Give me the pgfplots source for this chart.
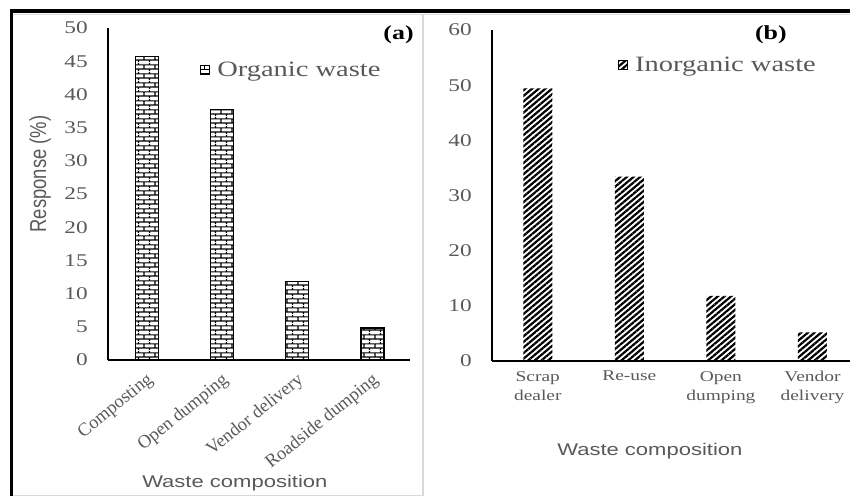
\documentclass[border=0pt]{standalone}
\usepackage{fontspec}
\setmainfont[FakeStretch=1.3]{Liberation Serif}
\newfontfamily\serifn{Liberation Serif}
\newfontfamily\sansw[FakeStretch=1.3]{Liberation Sans}
\newfontfamily\sansn{Liberation Sans}
\usepackage{pgfplots}
\pgfplotsset{compat=1.18}
\usetikzlibrary{patterns,patterns.meta}
\definecolor{txtgray}{HTML}{595959}
\definecolor{framegray}{HTML}{D9D9D9}

\pgfdeclarepatternformonly{mybricks}{\pgfpoint{0pt}{0pt}}{\pgfpoint{11pt}{8.6pt}}{\pgfpoint{11pt}{8.6pt}}{%
  \pgfsetlinewidth{1.2pt}%
  \pgfpathmoveto{\pgfpoint{0pt}{2.15pt}}\pgfpathlineto{\pgfpoint{11pt}{2.15pt}}%
  \pgfpathmoveto{\pgfpoint{0pt}{6.45pt}}\pgfpathlineto{\pgfpoint{11pt}{6.45pt}}%
  \pgfpathmoveto{\pgfpoint{2pt}{2.15pt}}\pgfpathlineto{\pgfpoint{2pt}{6.45pt}}%
  \pgfpathmoveto{\pgfpoint{7.5pt}{6.45pt}}\pgfpathlineto{\pgfpoint{7.5pt}{8.6pt}}%
  \pgfpathmoveto{\pgfpoint{7.5pt}{0pt}}\pgfpathlineto{\pgfpoint{7.5pt}{2.15pt}}%
  \pgfusepath{stroke}}

\pgfplotsset{
  panel/.style={
    scale only axis, ybar, anchor=south west,
    axis x line=bottom, axis y line=left,
    axis line style={-, line width=1.4bp, black},
    major tick length=0pt,
    ymin=0, xtick={0,1,2,3},
    /pgf/number format/assume math mode=true,
    yticklabel style={font=\fontsize{18}{18}\selectfont, text=txtgray, anchor=east, inner sep=0pt, xshift=-20bp},
    legend style={draw=none, fill=none, inner sep=0pt, anchor=west, column sep=5bp,
      font=\fontsize{22}{22}\selectfont, text=txtgray},
    legend image code/.code={\draw[##1, line width=1bp] (0bp,-4.5bp) rectangle (9bp,4.5bp);},
    clip=false,
  }
}

\begin{document}
\begin{tikzpicture}
\useasboundingbox (0bp,0bp) rectangle (850bp,496bp);

% Left panel
\begin{axis}[panel,
  at={(108bp,136bp)}, width=302bp, height=332bp,
  xmin=-0.52, xmax=3.5, ymax=50, ytick={0,5,...,50},
  xticklabels={Composting,Open dumping,Vendor delivery,Roadside dumping},
  xticklabel style={font=\serifn\fontsize{18.5}{18.5}\selectfont, text=txtgray, anchor=east, inner sep=0pt, xshift=4bp, yshift=-18bp, rotate=39},
  xlabel={Waste composition},
  xlabel style={at={(axis description cs:0.42,-0.37)}, anchor=center, font=\sansw\fontsize{17}{17}\selectfont, text=txtgray},
  ylabel={\scalebox{1}[1.25]{Response (\%)}},
  ylabel style={at={(axis description cs:-0.225,0.56)}, anchor=center, font=\sansn\fontsize{18.5}{18.5}\selectfont, text=txtgray},
  legend style={at={(axis description cs:0.305,0.873)}},
]
\addplot[draw=black, line width=1.3bp, pattern=mybricks, bar width=23bp]
  coordinates {(0,45.7) (1,37.7) (2,11.8) (3,4.8)};
\addlegendentry{Organic waste}
\node[font=\fontsize{20}{20}\selectfont\bfseries] at (axis description cs:0.962,0.979) {(a)};
\end{axis}

% Right panel
\begin{axis}[panel,
  at={(492bp,135bp)}, width=358bp, height=331bp,
  xmin=-0.5, xmax=3.41, ymax=60, ytick={0,10,...,60},
  xticklabels={{Scrap\\dealer},{Re-use},{Open\\dumping},{Vendor\\delivery}},
  xticklabel style={font=\fontsize{15}{19}\selectfont, text=txtgray, align=center, anchor=north, inner sep=0pt, yshift=-10bp},
  xlabel={Waste composition},
  xlabel style={at={(axis description cs:0.441,-0.272)}, anchor=center, font=\sansw\fontsize{17}{17}\selectfont, text=txtgray},
  legend style={at={(axis description cs:0.352,0.894)}},
]
\addplot[draw=none, pattern={Lines[angle=40, distance=4.3pt, line width=2.2pt]}, bar width=29bp]
  coordinates {(0,49.4) (1,33.4) (2,11.8) (3,5.2)};
\addlegendentry{Inorganic waste}
\node[font=\fontsize{20}{20}\selectfont\bfseries] at (axis description cs:0.779,0.985) {(b)};
\end{axis}

% Frame
\draw[framegray, line width=1.5bp] (13bp,481.5bp) -- (850bp,481.5bp);
\draw[framegray, line width=1.8bp] (423bp,0bp) -- (423bp,482bp);
\draw[framegray, line width=1bp] (13bp,0.8bp) -- (423bp,0.8bp);
\draw[black, line width=3.5bp] (11.3bp,0bp) -- (11.3bp,485.2bp) -- (850bp,485.2bp);
\end{tikzpicture}
\end{document}
